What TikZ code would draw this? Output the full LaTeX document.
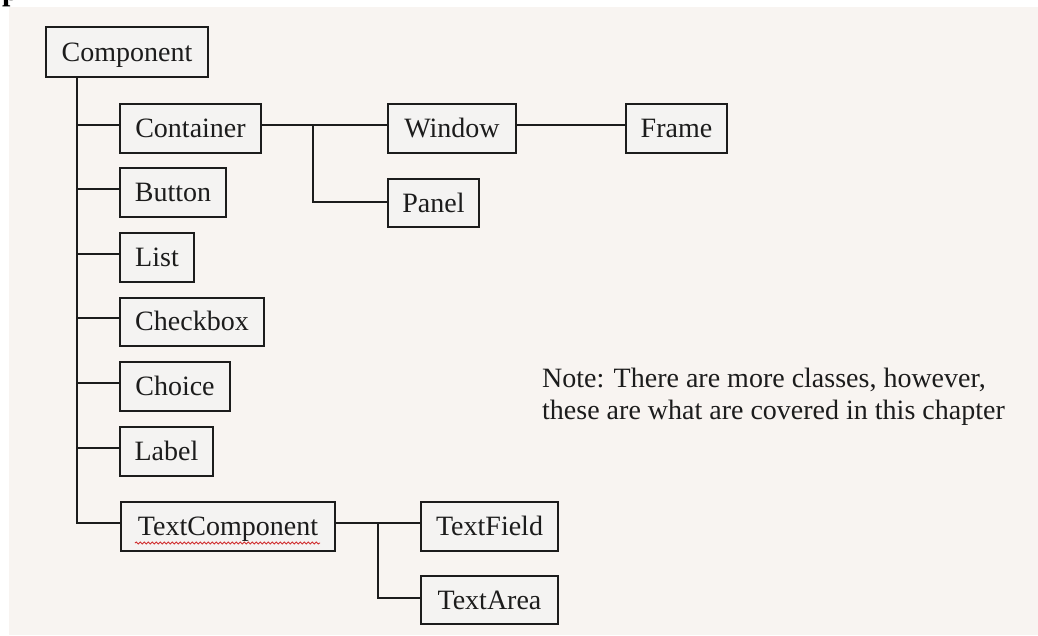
\documentclass[tikz,border=0pt]{standalone}
\usepackage{fontspec}
\setmainfont{Liberation Serif}
\usetikzlibrary{decorations.pathmorphing}
\definecolor{paper}{HTML}{F8F4F1}
\definecolor{boxfill}{HTML}{F4F3F2}
\definecolor{ink}{HTML}{1C1C1C}
\definecolor{spellred}{HTML}{D03030}
\tikzset{
  cls/.style={draw=ink, line width=2pt, fill=boxfill, text=ink,
    font=\fontsize{28}{32}\selectfont, inner sep=0pt, minimum height=49pt,
    text height=18pt, text depth=0pt},
  link/.style={draw=ink, line width=2pt},
}
\begin{document}
\begin{tikzpicture}[x=1pt, y=-1pt]
  % page and paper background
  \fill[white] (0,0) rectangle (1038,635);
  \fill[paper] (9,7) rectangle (1038,635);
  \useasboundingbox (0,0) rectangle (1038,635);
  % tail of a heading letter cut off at the top edge
  \begin{scope}
    \clip (0,0) rectangle (60,7);
    \node[anchor=base west, inner sep=0pt, text=black,
      font=\bfseries\fontsize{30}{30}\selectfont] (headp) at (2,0.5) {p};
  \end{scope}

  % class boxes
  \node[cls, minimum width=162pt, minimum height=50pt] (Component) at (127,52) {Component};
  \node[cls, minimum width=141pt] (Container) at (190.5,128.5) {Container};
  \node[cls, minimum width=128pt] (Window) at (452,128.5) {Window};
  \node[cls, minimum width=101pt] (Frame) at (676.5,128.5) {Frame};
  \node[cls, minimum width=91pt, minimum height=48pt] (Panel) at (433.5,203) {Panel};
  \node[cls, minimum width=106pt] (Button) at (173,192.5) {Button};
  \node[cls, minimum width=74pt] (List) at (157,257.5) {List};
  \node[cls, minimum width=144pt, minimum height=48pt] (Checkbox) at (192,321.5) {Checkbox};
  \node[cls, minimum width=110pt] (Choice) at (175,386.5) {Choice};
  \node[cls, minimum width=93pt] (Label) at (166.5,451.5) {Label};
  \node[cls, minimum width=214pt] (TextComponent) at (228,526.5) {TextComponent};
  \node[cls, minimum width=137pt] (TextField) at (489.5,526.5) {TextField};
  \node[cls, minimum width=137pt, minimum height=48pt] (TextArea) at (489.5,600) {TextArea};

  % spell-check underline
  \coordinate (wavyA) at (135,543);
  \coordinate (wavyB) at (320,543);
  \draw[spellred, line width=0.9pt,
    decorate, decoration={snake, segment length=4pt, amplitude=1pt}] (wavyA) -- (wavyB);

  % attachment points on the box sides
  \foreach \c in {Container,Window,Button,List,Checkbox,Choice,Label,TextComponent,TextField,Frame}
    \coordinate (\c-in) at ([yshift=3.5pt]\c.west);
  \coordinate (Panel-in) at ([yshift=1pt]Panel.west);
  \coordinate (TextArea-in) at ([yshift=2pt]TextArea.west);
  \coordinate (Container-out) at ([yshift=3.5pt]Container.east);
  \coordinate (Window-out) at ([yshift=3.5pt]Window.east);
  \coordinate (TextComponent-out) at ([yshift=3.5pt]TextComponent.east);

  % main trunk from Component
  \coordinate (trunk) at ([xshift=32pt]Component.south west);
  \draw[link] (trunk) |- (TextComponent-in);
  \foreach \c in {Container,Button,List,Checkbox,Choice,Label}
    \draw[link] (trunk |- \c-in) -- (\c-in);

  % Container subtree
  \draw[link] (Container-out) -- (Window-in);
  \coordinate (cbranch) at (313,125);
  \draw[link] (cbranch) |- (Panel-in);
  \draw[link] (Window-out) -- (Frame-in);

  % TextComponent subtree
  \draw[link] (TextComponent-out) -- (TextField-in);
  \coordinate (tbranch) at (378,523);
  \draw[link] (tbranch) |- (TextArea-in);

  % note
  \node[anchor=north west, inner sep=0pt, align=left, text=ink,
    font=\fontsize{28}{32}\selectfont] (note) at (542,368)
    {Note: There are more classes, however,\\these are what are covered in this chapter};
\end{tikzpicture}
\end{document}
